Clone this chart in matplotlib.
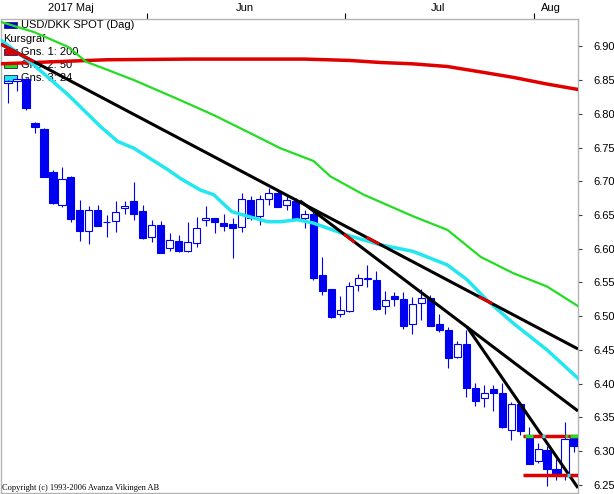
import matplotlib
matplotlib.use("Agg")
import matplotlib.pyplot as plt
from matplotlib.patches import Rectangle
import numpy as np

# USD/DKK daily candles, 10 May - 7 Aug 2017 (one entry per trading day)
opens = [6.845, 6.849, 6.851, 6.786, 6.778, 6.714, 6.665, 6.706, 6.657, 6.627,
         6.657, 6.639, 6.641, 6.660, 6.671, 6.656, 6.618, 6.635, 6.601, 6.611,
         6.597, 6.608, 6.643, 6.646, 6.638, 6.636, 6.632, 6.672, 6.648, 6.673,
         6.682, 6.665, 6.671, 6.645, 6.652, 6.561, 6.540, 6.503, 6.508, 6.546,
         6.555, 6.554, 6.515, 6.530, 6.526, 6.488, 6.519, 6.527, 6.488, 6.480,
         6.439, 6.459, 6.393, 6.379, 6.392, 6.387, 6.332, 6.370, 6.321, 6.286,
         6.302, 6.273, 6.265, 6.322]
highs = [6.850, 6.857, 6.853, 6.788, 6.779, 6.717, 6.721, 6.708, 6.672, 6.663,
         6.665, 6.650, 6.671, 6.671, 6.699, 6.665, 6.643, 6.641, 6.624, 6.620,
         6.640, 6.647, 6.663, 6.646, 6.651, 6.645, 6.683, 6.678, 6.680, 6.690,
         6.687, 6.678, 6.675, 6.657, 6.655, 6.588, 6.541, 6.530, 6.550, 6.563,
         6.576, 6.567, 6.537, 6.536, 6.536, 6.529, 6.541, 6.531, 6.504, 6.484,
         6.463, 6.480, 6.401, 6.398, 6.398, 6.401, 6.373, 6.373, 6.336, 6.312,
         6.307, 6.288, 6.344, 6.323]
lows = [6.816, 6.833, 6.806, 6.772, 6.706, 6.666, 6.662, 6.640, 6.612, 6.607,
        6.634, 6.617, 6.625, 6.652, 6.643, 6.614, 6.610, 6.593, 6.596, 6.595,
        6.595, 6.603, 6.634, 6.623, 6.626, 6.586, 6.625, 6.643, 6.635, 6.665,
        6.662, 6.658, 6.643, 6.630, 6.554, 6.531, 6.498, 6.499, 6.507, 6.538,
        6.544, 6.509, 6.504, 6.515, 6.481, 6.474, 6.494, 6.485, 6.476, 6.423,
        6.438, 6.381, 6.367, 6.366, 6.359, 6.335, 6.317, 6.324, 6.281, 6.283,
        6.248, 6.257, 6.257, 6.299]
closes = [6.849, 6.852, 6.808, 6.780, 6.707, 6.668, 6.704, 6.644, 6.627, 6.657,
          6.634, 6.640, 6.654, 6.664, 6.652, 6.616, 6.635, 6.593, 6.613, 6.597,
          6.610, 6.630, 6.646, 6.639, 6.634, 6.630, 6.673, 6.646, 6.673, 6.682,
          6.662, 6.672, 6.644, 6.652, 6.556, 6.538, 6.499, 6.509, 6.545, 6.556,
          6.556, 6.510, 6.524, 6.525, 6.485, 6.518, 6.527, 6.485, 6.480, 6.438,
          6.459, 6.394, 6.375, 6.387, 6.386, 6.336, 6.370, 6.330, 6.281, 6.303,
          6.273, 6.268, 6.318, 6.307]

# moving averages (candle index, value)
ma200_x = [-0.78, 5, 11, 20, 33, 38, 41.4, 45, 48.9, 52.6, 56.2, 60, 63.44]
ma200_y = [6.874, 6.877, 6.880, 6.881, 6.881, 6.879, 6.876, 6.874, 6.870, 6.862,
           6.854, 6.844, 6.836]
ma50_x = [-0.78, 2.9, 6.7, 8.7, 10.3, 14.0, 19.2, 22.9, 26.7, 30.3, 34.0, 35.9,
          39.6, 45.1, 48.9, 52.6, 56.2, 60.0, 63.44]
ma50_y = [6.936, 6.921, 6.899, 6.877, 6.869, 6.850, 6.820, 6.798, 6.773, 6.749,
          6.730, 6.707, 6.680, 6.648, 6.628, 6.588, 6.564, 6.544, 6.515]
ma24_x = [-0.78, 2.9, 6.7, 10.3, 12.2, 14.0, 17.8, 19.2, 21.4, 22.9, 24.9, 26.7,
          28.9, 30.3, 32.2, 34.0, 37.8, 41.4, 45.1, 48.9, 51.1, 53.3, 56.2, 60.0, 63.44]
ma24_y = [6.909, 6.872, 6.828, 6.781, 6.759, 6.749, 6.717, 6.704, 6.687, 6.680,
          6.655, 6.648, 6.640, 6.640, 6.643, 6.638, 6.620, 6.606, 6.596, 6.576,
          6.554, 6.524, 6.490, 6.450, 6.408]

# drawn trend lines: (x0, y0, x1, y1)
trend_lines = [(-0.78, 6.903, 63.44, 6.4515),
               (32.5, 6.671, 63.44, 6.3596),
               (51.1, 6.484, 63.44, 6.2456)]
support_levels = [6.3225, 6.2645]
support_start = 57.3

month_bounds = [15.5, 37.5, 58.5]
month_centers = [7.0, 26.4, 47.9, 60.4]
month_labels = ["2017 Maj", "Jun", "Jul", "Aug"]
yticks = np.arange(6.25, 6.901, 0.05)

BLUE = "#0000f0"
RED = "#e00000"
GREEN = "#22dd22"
CYAN = "#22e6f0"
W, H = 614, 494
XMIN, XMAX = -0.78, 63.44

plt.rcParams['font.family'] = ['Liberation Sans', 'DejaVu Sans']
fig = plt.figure(figsize=(W / 100, H / 100), dpi=100)
ax = fig.add_axes([1 / W, 1 / H, 577 / W, 474 / H])
ax.set_xlim(XMIN, XMAX)
ax.set_ylim(6.2381, 6.9404)

# candles
for i, (o, h, l, c) in enumerate(zip(opens, highs, lows, closes)):
    ax.vlines(i, l, h, color=BLUE, lw=0.8, zorder=2)
    down = c < o
    ax.add_patch(Rectangle((i - 0.4, min(o, c)), 0.8, abs(c - o),
                           fc=BLUE if down else "white", ec=BLUE, lw=0.8, zorder=3))

# moving averages
ax.plot(ma200_x, ma200_y, color=RED, lw=2.5, zorder=4)
ax.plot(ma50_x, ma50_y, color=GREEN, lw=1.6, zorder=4)
ax.plot(ma24_x, ma24_y, color=CYAN, lw=2.5, zorder=4)


def line_at(ln, x):
    x0, y0, x1, y1 = ln
    return y0 + (y1 - y0) * (np.asarray(x) - x0) / (x1 - x0)


for ln in trend_lines:
    ax.plot([ln[0], ln[2]], [ln[1], ln[3]], color="black", lw=2.2, zorder=5,
            solid_capstyle="butt")

# red highlights where the trend lines meet the averages
for k, a, b in [(0, -0.78, 2.9), (1, 37.4, 38.6), (0, 39.9, 41.3), (0, 52.4, 53.9)]:
    xs = np.array([a, b])
    ax.plot(xs, line_at(trend_lines[k], xs), color=RED, lw=2.2, zorder=6,
            solid_capstyle="butt")

for lvl in support_levels:
    ax.plot([support_start, XMAX], [lvl, lvl], color=RED, lw=2.5, zorder=5,
            solid_capstyle="butt")
for lvl, a, b, col in [(support_levels[0], 57.5, 58.4, GREEN),
                       (support_levels[0], 59.4, 59.8, CYAN),
                       (support_levels[0], 62.0, 62.3, GREEN),
                       (support_levels[0], 62.6, 63.44, GREEN),
                       (support_levels[1], 62.2, 62.6, CYAN)]:
    ax.plot([a, b], [lvl, lvl], color=col, lw=2.5, zorder=6, solid_capstyle="butt")

# axes styling
for s in ax.spines.values():
    s.set_color("#b4b4b4")
    s.set_linewidth(1)
ax.xaxis.tick_top()
ax.set_xticks(month_bounds)
ax.set_xticklabels([])
ax.set_xticks(month_centers, minor=True)
ax.set_xticklabels(month_labels, minor=True)
ax.tick_params(axis="x", which="major", length=4, width=0.8, color="black", top=True, bottom=False)
ax.tick_params(axis="x", which="minor", length=0, pad=4, labelsize=8, top=True, bottom=False)
ax.yaxis.tick_right()
ax.set_yticks(yticks)
ax.set_yticklabels([f"{v:.2f}" for v in yticks])
ax.tick_params(axis="y", length=3, width=0.8, color="#404040", pad=8, labelsize=8)

# legend block (drawn beneath the lines)
def fig_text(x, y, s, **kw):
    ax.text(x / W, 1 - y / H, s, transform=fig.transFigure, va="center", ha="left",
            fontsize=8, zorder=1, **kw)


def fig_box(x, y, w, h, col):
    ax.add_patch(Rectangle((x / W, 1 - (y + h) / H), w / W, h / H, transform=fig.transFigure,
                           fc=col, ec="#202060", lw=0.6, zorder=1, clip_on=False))


fig_box(4, 22, 13, 6, BLUE)
fig_text(21, 25, "USD/DKK SPOT (Dag)")
fig_text(3, 39, "Kursgraf")
fig_box(4, 49, 13, 6, RED)
fig_text(21, 52, "Gns. 1: 200")
fig_box(4, 62, 13, 6, GREEN)
fig_text(21, 65, "Gns. 2: 50")
fig_box(4, 75, 13, 6, CYAN)
fig_text(21, 78, "Gns. 3: 24")

fig.text(2 / W, 1 - 490 / H, "Copyright (c) 1993-2006 Avanza Vikingen AB",
         fontsize=6, family="Liberation Serif", va="baseline")

fig.savefig("out.png", dpi=100)
